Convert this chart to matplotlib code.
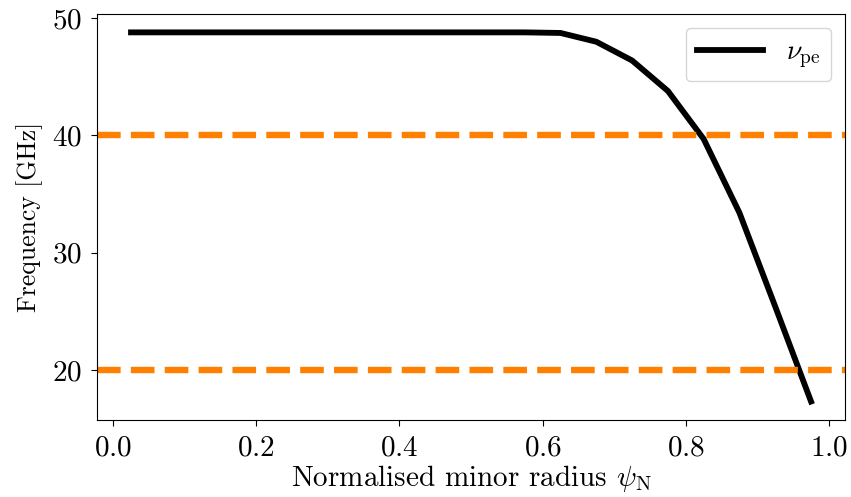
import matplotlib
matplotlib.use("Agg")
import matplotlib.pyplot as plt

plt.rcParams['font.family'] = 'serif'
plt.rcParams['font.serif'] = ['cmr10']
plt.rcParams['mathtext.fontset'] = 'cm'
plt.rcParams['axes.formatter.use_mathtext'] = True

# normalised minor radius and plasma frequency
psi_n = [0.025, 0.075, 0.125, 0.175, 0.225, 0.275, 0.325, 0.375, 0.425, 0.475,
         0.525, 0.575, 0.625, 0.675, 0.725, 0.775, 0.825, 0.875, 0.925, 0.975]
nu_pe = [48.8, 48.8, 48.8, 48.8, 48.8, 48.8, 48.8, 48.8, 48.8, 48.8,
         48.8, 48.8, 48.75, 48.0, 46.4, 43.8, 39.7, 33.4, 25.4, 17.3]
probe_freqs = [40, 20]

fig = plt.figure(figsize=(8.51, 4.97), dpi=100)
ax = fig.add_axes([0.114, 0.155, 0.879, 0.817])

ax.plot(psi_n, nu_pe, color='black', lw=4.2, label=r'$\nu_\mathrm{pe}$')
for f in probe_freqs:
    ax.axhline(f, color='#ff8000', lw=4.6, ls='--')

ax.set_xlabel(r'Normalised minor radius $\psi_\mathrm{N}$', fontsize=21, labelpad=1)
ax.set_ylabel('Frequency [GHz]', fontsize=18.5, labelpad=6)
ax.tick_params(labelsize=21, length=4.5, pad=6.5)
ax.set_yticks([20, 30, 40, 50])
ax.legend(loc='upper right', fontsize=20, handlelength=2.4)

fig.savefig('out.png', dpi=100)
